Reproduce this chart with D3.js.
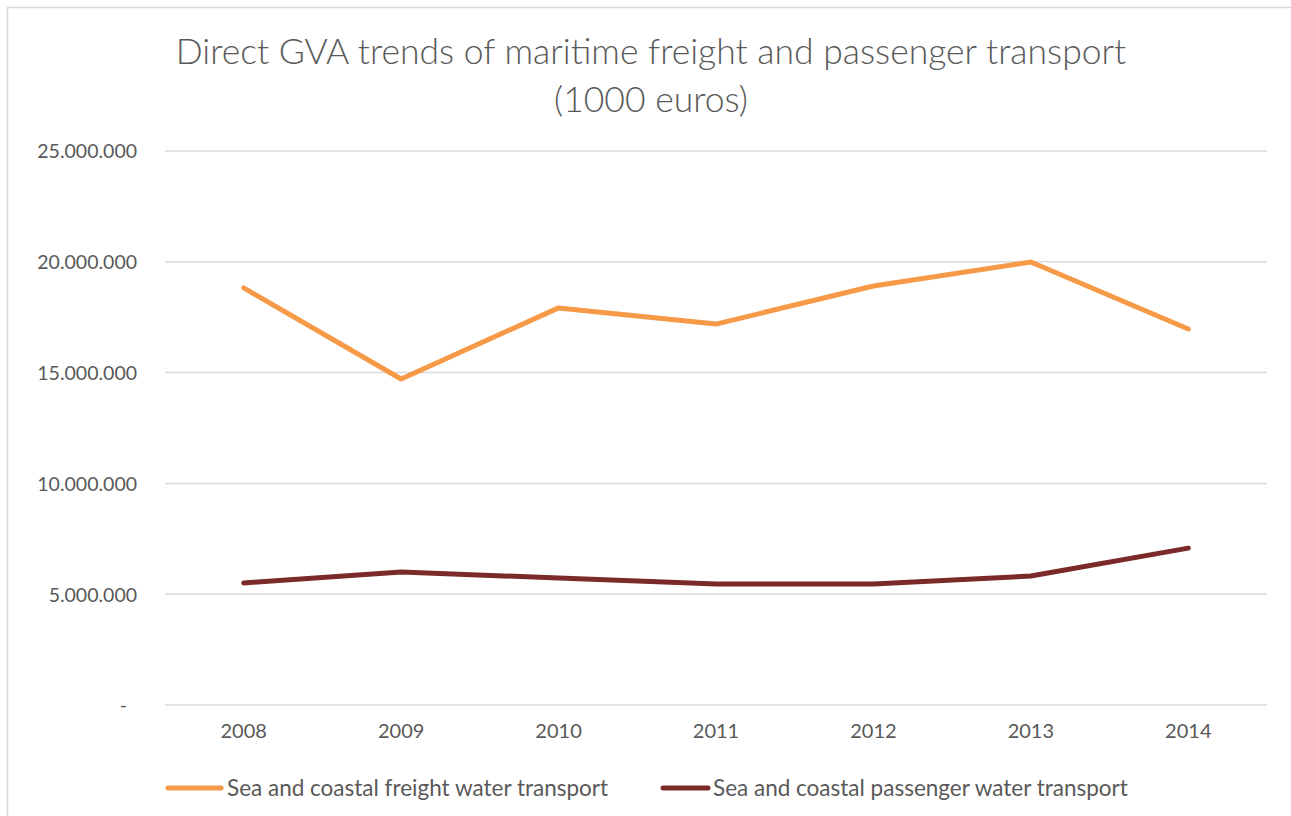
<!DOCTYPE html>
<html>
<head>
<meta charset="utf-8">
<script src="https://cdn.jsdelivr.net/npm/d3@7"></script>
<style>
  html, body { margin: 0; padding: 0; background: #fff; }
  svg { display: block; }
  text { font-family: Lato, "Open Sans", sans-serif; }
</style>
</head>
<body>
<svg id="chart" width="1291" height="816"></svg>
<script>
// Direct GVA, thousand euros
const years = ["2008", "2009", "2010", "2011", "2012", "2013", "2014"];
const freightValues = [18820000, 14710000, 17920000, 17190000, 18910000, 19990000, 16970000];
const passengerValues = [5510000, 6000000, 5730000, 5460000, 5460000, 5820000, 7080000];
const yTicks = [0, 5000000, 10000000, 15000000, 20000000, 25000000];
const seriesNames = ["Sea and coastal freight water transport", "Sea and coastal passenger water transport"];
const seriesColors = ["#f79a48", "#7a2a28"];

const svg = d3.select("#chart");
const W = 1291, H = 816;
const FONT = "Lato, \"Open Sans\", sans-serif";

// chart frame
svg.append("rect")
  .attr("x", 7.5).attr("y", 7.5)
  .attr("width", W + 20).attr("height", H + 20)
  .attr("fill", "#fff").attr("stroke", "#d9d9d9").attr("stroke-width", 1.5);

const plot = { left: 165, right: 1267, top: 151, bottom: 705 };

const x = d3.scaleBand().domain(years).range([plot.left, plot.right]);
const y = d3.scaleLinear().domain([0, 25000000]).range([plot.bottom, plot.top]);

// title
const title = svg.append("text")
  .attr("x", 651).attr("text-anchor", "middle")
  .attr("fill", "#595959").attr("font-size", 35.5).attr("font-weight", 300);
title.append("tspan").attr("x", 651).attr("y", 64).text("Direct GVA trends of maritime freight and passenger transport");
title.append("tspan").attr("x", 651).attr("y", 112).text("(1000 euros)");

// gridlines
svg.append("g")
  .selectAll("line").data(yTicks).join("line")
  .attr("x1", plot.left).attr("x2", plot.right)
  .attr("y1", d => y(d)).attr("y2", d => y(d))
  .attr("stroke", "#d9d9d9").attr("stroke-width", 1.5);

// y axis labels
const fmt = v => v === 0 ? "-" : d3.format(",")(v).replace(/,/g, ".");
const yAxis = svg.append("g")
  .attr("transform", `translate(${plot.left - 28},0)`)
  .call(d3.axisLeft(y).tickValues(yTicks).tickFormat(fmt).tickSize(0).tickPadding(0));
yAxis.select(".domain").remove();
yAxis.selectAll("text")
  .attr("font-size", 19.5).attr("fill", "#595959")
  .attr("font-family", FONT)
  .attr("dy", "0.35em");
yAxis.selectAll("text").filter(d => d === 0).attr("dx", -10);

// x axis labels
const xAxis = svg.append("g")
  .attr("transform", `translate(0,${plot.bottom + 19})`)
  .call(d3.axisBottom(x).tickSize(0).tickPadding(0));
xAxis.select(".domain").remove();
xAxis.selectAll("text")
  .attr("font-size", 20).attr("fill", "#595959")
  .attr("font-family", FONT)
  .attr("dy", "0.71em");

// series lines
const line = d3.line()
  .x((d, i) => x(years[i]) + x.bandwidth() / 2)
  .y(d => y(d));

[freightValues, passengerValues].forEach((vals, k) => {
  svg.append("path")
    .datum(vals)
    .attr("d", line)
    .attr("fill", "none")
    .attr("stroke", seriesColors[k])
    .attr("stroke-width", 5)
    .attr("stroke-linejoin", "round")
    .attr("stroke-linecap", "round");
});

// legend
const legendItems = [
  { x1: 168, x2: 221, tx: 227 },
  { x1: 663, x2: 708, tx: 713 }
];
const legend = svg.append("g");
legendItems.forEach((it, k) => {
  legend.append("line")
    .attr("x1", it.x1).attr("x2", it.x2).attr("y1", 788).attr("y2", 788)
    .attr("stroke", seriesColors[k]).attr("stroke-width", 5)
    .attr("stroke-linecap", "round");
  legend.append("text")
    .attr("x", it.tx).attr("y", 788).attr("dy", "0.35em")
    .attr("font-size", 22.5).attr("fill", "#595959")
    .text(seriesNames[k]);
});
</script>
</body>
</html>
